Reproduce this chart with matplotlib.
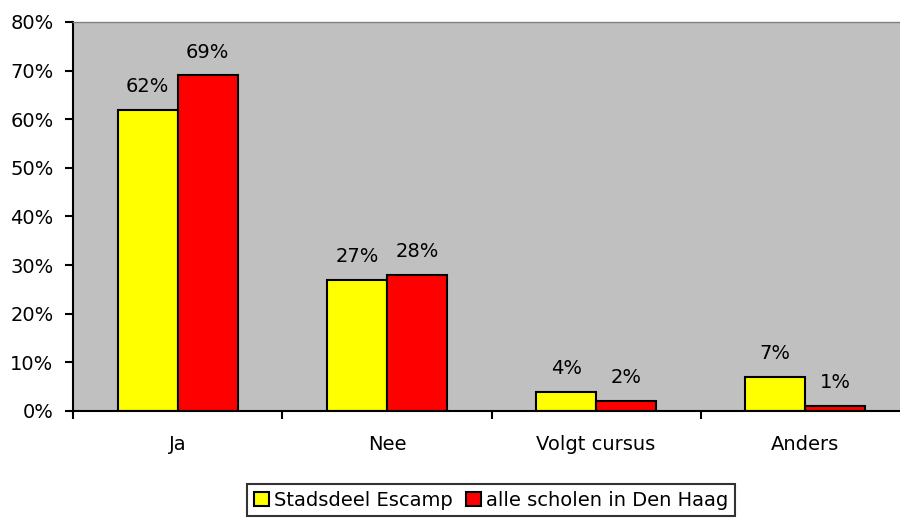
import matplotlib
matplotlib.use("Agg")
import matplotlib.pyplot as plt
import numpy as np

categories = ["Ja", "Nee", "Volgt cursus", "Anders"]
escamp = [62, 27, 4, 7]
den_haag = [69, 28, 2, 1]
series_names = ["Stadsdeel Escamp", "alle scholen in Den Haag"]
yticks = [0, 10, 20, 30, 40, 50, 60, 70, 80]

plt.rcParams['font.family'] = ['DejaVu Sans']
FS = 14
fig = plt.figure(figsize=(9, 5.18), dpi=100)
ax = fig.add_axes([73/900, 1 - 411/518, 837/900, (411-22)/518])
ax.set_facecolor('#C0C0C0')

x = np.arange(len(categories))
w = 0.287
b1 = ax.bar(x - w/2, escamp, w, color='#FFFF00', edgecolor='black', linewidth=1.5, label=series_names[0])
b2 = ax.bar(x + w/2, den_haag, w, color='#FF0000', edgecolor='black', linewidth=1.5, label=series_names[1])

for bars, vals in ((b1, escamp), (b2, den_haag)):
    for r, v in zip(bars, vals):
        ax.annotate(f"{v}%", (r.get_x() + r.get_width()/2, v), xytext=(0, 10),
                    textcoords='offset points', ha='center', va='bottom', fontsize=FS)

ax.set_xlim(-0.5, len(categories) - 0.5)
ax.set_ylim(0, 80)
ax.set_yticks(yticks)
ax.set_yticklabels([f"{t}%" for t in yticks], fontsize=FS)
ax.set_xticks(x)
ax.set_xticklabels(categories, fontsize=FS)
ax.tick_params(axis='x', length=0, pad=17)
ax.set_xticks(np.arange(-0.5, len(categories) + 0.5, 1), minor=True)
ax.tick_params(axis='x', which='minor', length=6, width=1.5, direction='out')
ax.tick_params(axis='y', length=6, width=1.5, direction='out', pad=8)

for s in ('left', 'bottom'):
    ax.spines[s].set_color('black')
    ax.spines[s].set_linewidth(1.5)
for s in ('top', 'right'):
    ax.spines[s].set_color('#808080')
    ax.spines[s].set_linewidth(1)

leg = fig.legend(loc='center', bbox_to_anchor=(491/900, 1 - 500/518), ncol=2, frameon=True,
                 fancybox=False, edgecolor='black', fontsize=FS, handlelength=0.75,
                 handleheight=0.75, handletextpad=0.25, columnspacing=0.7, borderpad=0.35)
leg.get_frame().set_linewidth(1.5)

fig.savefig("out.png", dpi=100)
